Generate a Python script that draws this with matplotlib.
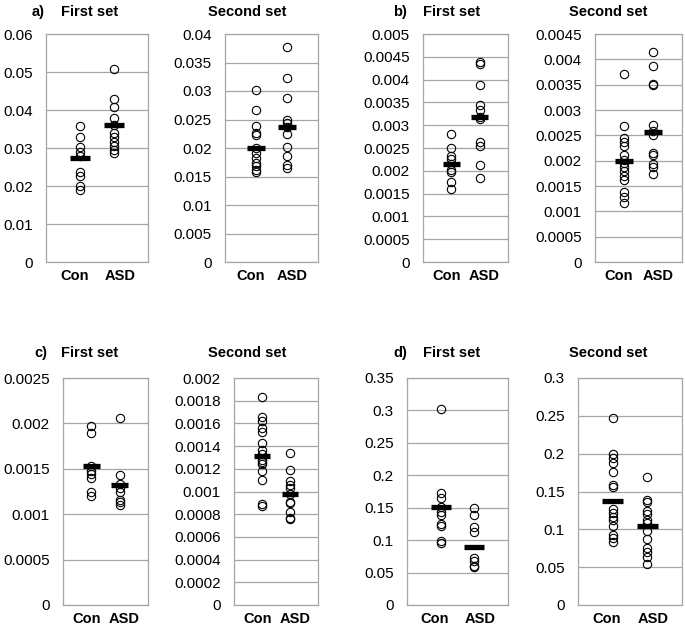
import matplotlib
matplotlib.use("Agg")
import matplotlib.pyplot as plt
import numpy as np
from matplotlib.ticker import FuncFormatter, MultipleLocator

plt.rcParams["font.family"] = ["Liberation Sans", "DejaVu Sans"]

groups = ["Con", "ASD"]

# values, one list per group and panel
a1_con = [0.0358, 0.0328, 0.0302, 0.0290, 0.0280, 0.0237, 0.0227, 0.0200, 0.0189]
a1_asd = [0.0507, 0.0429, 0.0409, 0.0378, 0.0360, 0.0339, 0.0328, 0.0317, 0.0306, 0.0296, 0.0286]
a2_con = [0.0301, 0.0266, 0.0238, 0.0226, 0.0223, 0.0200, 0.0191, 0.0182, 0.0174, 0.0168, 0.0161, 0.0158]
a2_asd = [0.0378, 0.0322, 0.0287, 0.0250, 0.0244, 0.0237, 0.0224, 0.0202, 0.0186, 0.0171, 0.0165]
b1_con = [0.00281, 0.00249, 0.00233, 0.00226, 0.00216, 0.00202, 0.00198, 0.00176, 0.00161]
b1_asd = [0.00438, 0.00434, 0.00389, 0.00345, 0.00334, 0.00318, 0.00313, 0.00263, 0.00255, 0.00213, 0.00185]
b2_con = [0.00372, 0.00269, 0.00245, 0.00237, 0.00228, 0.00212, 0.00202, 0.00195, 0.00187,
          0.00179, 0.00169, 0.00162, 0.00139, 0.00128, 0.00117]
b2_asd = [0.00415, 0.00387, 0.00352, 0.00350, 0.00270, 0.00259, 0.00251, 0.00215, 0.00212,
          0.00194, 0.00187, 0.00173]
c1_con = [0.00197, 0.00189, 0.00153, 0.00148, 0.00144, 0.00140, 0.00125, 0.00120]
c1_asd = [0.00206, 0.00143, 0.00133, 0.00129, 0.00125, 0.00116, 0.00113, 0.00110]
c2_con = [0.00183, 0.00166, 0.00162, 0.00156, 0.00152, 0.00143, 0.00137, 0.00133, 0.00128,
          0.00126, 0.00124, 0.00118, 0.00110, 0.00089, 0.00087]
c2_asd = [0.00134, 0.00119, 0.00109, 0.00106, 0.00103, 0.00098, 0.00091, 0.00090, 0.00082,
          0.00077, 0.00076]
d1_con = [0.3016, 0.1727, 0.1650, 0.1515, 0.1430, 0.1390, 0.1250, 0.1220, 0.0990, 0.0950]
d1_asd = [0.149, 0.138, 0.120, 0.113, 0.073, 0.068, 0.060, 0.058]
d2_con = [0.247, 0.200, 0.194, 0.188, 0.176, 0.158, 0.156, 0.127, 0.122, 0.116, 0.112,
          0.105, 0.092, 0.088, 0.083]
d2_asd = [0.169, 0.139, 0.136, 0.124, 0.120, 0.112, 0.109, 0.098, 0.087, 0.075, 0.070,
          0.064, 0.054]

# group means shown as black bars
a1_mean = [0.0274, 0.0361]
a2_mean = [0.0200, 0.0237]
b1_mean = [0.00216, 0.00318]
b2_mean = [0.00200, 0.00256]
c1_mean = [0.00153, 0.00132]
c2_mean = [0.00131, 0.00098]
d1_mean = [0.151, 0.090]
d2_mean = [0.137, 0.104]

W, H = 685, 628
fig = plt.figure(figsize=(W / 100, H / 100), dpi=100)
fig.patch.set_facecolor("white")

grid_col = "#a6a6a6"

# (left px, right px, top px, bottom px, ymax, ystep, con, asd, means)
panels = [
    (46, 148, 34, 262, 0.06, 0.01, a1_con, a1_asd, a1_mean),
    (225, 318, 34, 262, 0.04, 0.005, a2_con, a2_asd, a2_mean),
    (423, 508, 34, 262, 0.005, 0.0005, b1_con, b1_asd, b1_mean),
    (595, 682, 34, 262, 0.0045, 0.0005, b2_con, b2_asd, b2_mean),
    (63, 148, 378, 605, 0.0025, 0.0005, c1_con, c1_asd, c1_mean),
    (234, 318, 378, 605, 0.002, 0.0002, c2_con, c2_asd, c2_mean),
    (407, 508, 378, 605, 0.35, 0.05, d1_con, d1_asd, d1_mean),
    (578, 682, 378, 605, 0.3, 0.05, d2_con, d2_asd, d2_mean),
]

fmt = FuncFormatter(lambda v, pos: "%g" % round(v, 6))

for left, right, top, bottom, ymax, ystep, con, asd, means in panels:
    ax = fig.add_axes([left / W, 1 - bottom / H, (right - left) / W, (bottom - top) / H])
    for i, vals in enumerate([con, asd]):
        ax.plot(np.full(len(vals), i + 1), vals, "o", ms=6, mfc="none",
                mec="black", mew=0.8, zorder=3)
        ax.hlines(means[i], i + 1 - 0.3, i + 1 + 0.3, color="black", lw=3.8, zorder=4)
    ax.set_xlim(0, 3)
    ax.set_ylim(0, ymax)
    ax.yaxis.set_major_locator(MultipleLocator(ystep))
    ax.yaxis.set_major_formatter(fmt)
    ax.set_xticks([0.83, 2.17])
    ax.set_xticklabels(groups, fontsize=10.5, fontweight="bold")
    ax.tick_params(axis="y", length=0, pad=9.5, labelsize=11)
    ax.tick_params(axis="x", length=0, pad=5)
    ax.grid(axis="y", color=grid_col, lw=0.9)
    ax.set_axisbelow(True)
    for s in ax.spines.values():
        s.set_color(grid_col)
        s.set_linewidth(0.9)

title_kw = dict(fontsize=10.5, fontweight="bold", ha="center", va="center")
for y in (12, 353):
    fig.text(90 / W, 1 - y / H, "First set", **title_kw)
    fig.text(247 / W, 1 - y / H, "Second set", **title_kw)
    fig.text(452 / W, 1 - y / H, "First set", **title_kw)
    fig.text(608 / W, 1 - y / H, "Second set", **title_kw)
fig.text(38 / W, 1 - 12 / H, "a)", **title_kw)
fig.text(400 / W, 1 - 12 / H, "b)", **title_kw)
fig.text(41 / W, 1 - 353 / H, "c)", **title_kw)
fig.text(400 / W, 1 - 353 / H, "d)", **title_kw)

fig.savefig("out.png", dpi=100)
